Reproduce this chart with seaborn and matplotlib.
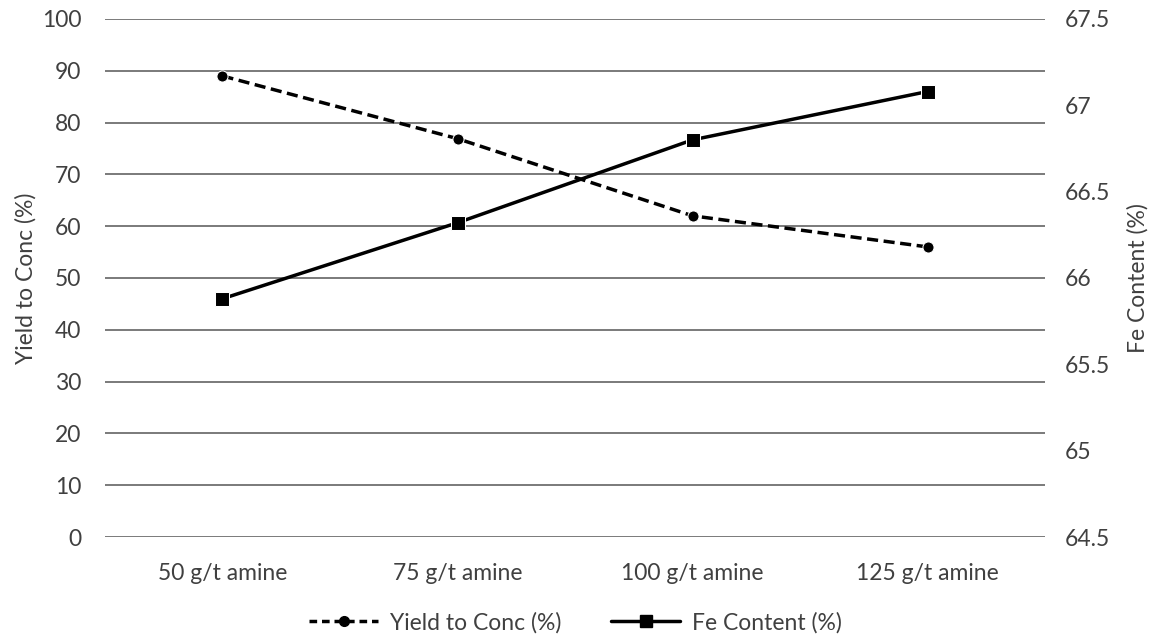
import matplotlib
matplotlib.use("Agg")
import matplotlib.pyplot as plt
import seaborn as sns
import pandas as pd
from matplotlib.lines import Line2D

categories = ["50 g/t amine", "75 g/t amine", "100 g/t amine", "125 g/t amine"]
yield_conc = [89.0, 76.9, 62.0, 56.0]
fe_content = [65.88, 66.32, 66.80, 67.08]
left_ticks = [0, 10, 20, 30, 40, 50, 60, 70, 80, 90, 100]
right_ticks = [64.5, 65, 65.5, 66, 66.5, 67, 67.5]
right_labels = ["64.5", "65", "65.5", "66", "66.5", "67", "67.5"]

sns.set_style("white")
plt.rcParams['font.family'] = ['Lato', 'DejaVu Sans']
FS = 16.5
TC = "#404040"

df = pd.DataFrame({"cat": categories, "x": range(len(categories)),
                   "yield": yield_conc, "fe": fe_content})

fig = plt.figure(figsize=(11.51, 6.39), dpi=100)
ax = fig.add_axes([0.0912, 0.1596, 0.8168, 0.8107])
ax2 = ax.twinx()

for y in left_ticks:
    ax.axhline(y, color="#7a7a7a", lw=1.4, zorder=0)

sns.lineplot(data=df, x="x", y="yield", ax=ax, color="black", lw=2.5,
             marker="o", markersize=8, linestyle=(0, (3.2, 1.6)), zorder=3)
sns.lineplot(data=df, x="x", y="fe", ax=ax2, color="black", lw=2.5,
             marker="s", markersize=9.5, zorder=3)

ax.set_xlim(-0.5, 3.5)
ax.set_ylim(0, 100)
ax2.set_ylim(64.5, 67.5)
ax.set_yticks(left_ticks)
ax.set_yticklabels([str(t) for t in left_ticks])
ax2.set_yticks(right_ticks)
ax2.set_yticklabels(right_labels)
ax.set_xticks(range(len(categories)))
ax.set_xticklabels(categories)

for a in (ax, ax2):
    for s in a.spines.values():
        s.set_visible(False)
    a.tick_params(length=0, labelsize=FS, colors=TC)
    a.set_xlabel("")
ax.tick_params(axis="y", pad=17)
ax2.tick_params(axis="y", pad=14)
ax.tick_params(axis="x", pad=19)
ax.set_ylabel("Yield to Conc (%)", fontsize=FS, color=TC, labelpad=4)
ax2.set_ylabel("Fe Content (%)", fontsize=FS, color=TC, labelpad=12)

handles = [
    Line2D([], [], color="black", lw=2.5, linestyle=(0, (2.2, 1.4)), marker="o", markersize=7),
    Line2D([], [], color="black", lw=2.5, marker="s", markersize=8),
]
fig.legend(handles, ["Yield to Conc (%)", "Fe Content (%)"], loc="center",
           bbox_to_anchor=(0.5, 0.026), ncol=2, frameon=False, fontsize=FS,
           handlelength=3.0, handletextpad=0.5, columnspacing=2.2, labelcolor=TC)

fig.savefig("out.png", dpi=100)
